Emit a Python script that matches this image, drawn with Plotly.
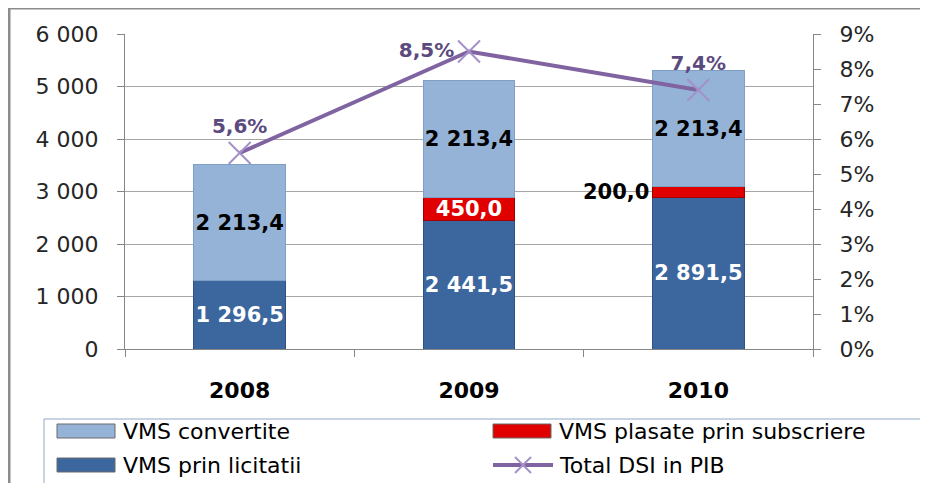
import plotly.graph_objects as go

# date (mil. lei)
years = ["2008", "2009", "2010"]
vms_licitatii = [1296.5, 2441.5, 2891.5]
vms_subscriere = [0.0, 450.0, 200.0]
vms_convertite = [2213.4, 2213.4, 2213.4]
dsi_pib = [0.056, 0.085, 0.074]

series_names = ["VMS convertite", "VMS plasate prin subscriere",
                "VMS prin licitatii", "Total DSI in PIB"]

C_LIGHT = "#95B3D7"
C_DARK = "#3C679E"
C_RED = "#E00000"
C_LINE = "#8064A2"

# pagina html are 8px margine implicita -> figura putin mai mica
OFF = 8
W, H = 928 - OFF, 483 - OFF
L, T = 125 - OFF, 34 - OFF
R = W - (813 - OFF)
B = H - (349 - OFF)
PW, PH = W - L - R, H - T - B


# coordonate in pixeli de pagina -> paper
def px_x(px):
    return (px - OFF - L) / PW


def px_y(py):
    return (H - B - (py - OFF)) / PH


FONT = "DejaVu Sans"
xpos = list(range(len(years)))
BAR_W = 0.4

fig = go.Figure()

# bare stivuite: licitatii jos, subscriere, convertite sus
fig.add_trace(go.Bar(
    x=xpos, y=vms_licitatii, name=series_names[2],
    marker=dict(color=C_DARK, line=dict(color="#2E5283", width=1)),
    width=BAR_W, texttemplate="%{y:,.1f}", textposition="inside",
    insidetextanchor="middle", constraintext="none", textangle=0,
    textfont=dict(family=FONT, size=21, color="white", weight="bold"),
    showlegend=False,
))
fig.add_trace(go.Bar(
    x=xpos, y=vms_subscriere, name=series_names[1],
    marker=dict(color=C_RED, line=dict(color="#A00000", width=1)),
    width=BAR_W,
    texttemplate=["" if v < 300 else "%{y:,.1f}" for v in vms_subscriere],
    textposition="inside", insidetextanchor="middle", constraintext="none",
    textangle=0,
    textfont=dict(family=FONT, size=21, color="white", weight="bold"),
    showlegend=False,
))
fig.add_trace(go.Bar(
    x=xpos, y=vms_convertite, name=series_names[0],
    marker=dict(color=C_LIGHT, line=dict(color="#7F9FC7", width=1)),
    width=BAR_W, texttemplate="%{y:,.1f}", textposition="inside",
    insidetextanchor="middle", constraintext="none", textangle=0,
    textfont=dict(family=FONT, size=21, color="black", weight="bold"),
    showlegend=False,
))
fig.add_trace(go.Scatter(
    x=xpos, y=dsi_pib, name=series_names[3], yaxis="y2",
    mode="lines+markers+text",
    line=dict(color=C_LINE, width=4),
    marker=dict(symbol="x-thin", size=22, line=dict(color="#A391C8", width=2)),
    texttemplate="%{y:.1%}",
    textposition=["top center", "middle left", "top center"],
    textfont=dict(family=FONT, size=20, color="#5B4A7E", weight="bold"),
    cliponaxis=False, showlegend=False,
))

annotations = []
# eticheta mica (200,0) pusa in stanga barei
for i, v in enumerate(vms_subscriere):
    if 0 < v < 300:
        annotations.append(dict(
            x=xpos[i] - BAR_W / 2, y=vms_licitatii[i] + v / 2,
            xref="x", yref="y",
            text=f"{v:.1f}".replace(".", ","), showarrow=False,
            xanchor="right", yanchor="middle", xshift=-1,
            font=dict(family=FONT, size=21, color="black", weight="bold"),
        ))

shapes = []
# chenarul graficului
shapes.append(dict(type="rect", xref="paper", yref="paper",
                   x0=px_x(9), x1=px_x(940), y0=px_y(520), y1=px_y(8),
                   line=dict(color="#8C8C8C", width=3), layer="below"))
# legenda
shapes.append(dict(type="rect", xref="paper", yref="paper",
                   x0=px_x(44), x1=px_x(921), y0=px_y(500), y1=px_y(419),
                   line=dict(color="#8EA9C8", width=1)))
legend_items = [
    (series_names[0], "bar", C_LIGHT, 57, 431),
    (series_names[1], "bar", C_RED, 493, 431),
    (series_names[2], "bar", C_DARK, 57, 465),
    (series_names[3], "line", C_LINE, 493, 465),
]
for name, kind, color, lx, ly in legend_items:
    if kind == "bar":
        shapes.append(dict(type="rect", xref="paper", yref="paper",
                           x0=px_x(lx), x1=px_x(lx + 58),
                           y0=px_y(ly + 7), y1=px_y(ly - 7),
                           fillcolor=color, line=dict(color="#6A6A6A", width=1)))
    else:
        shapes.append(dict(type="line", xref="paper", yref="paper",
                           x0=px_x(lx), x1=px_x(lx + 60),
                           y0=px_y(ly), y1=px_y(ly),
                           line=dict(color=color, width=4)))
        for dy in (-8, 8):
            shapes.append(dict(type="line", xref="paper", yref="paper",
                               x0=px_x(lx + 22), x1=px_x(lx + 38),
                               y0=px_y(ly - dy), y1=px_y(ly + dy),
                               line=dict(color="#A391C8", width=2)))
    annotations.append(dict(
        x=px_x(lx + 64), y=px_y(ly), xref="paper", yref="paper",
        text=name, showarrow=False, xanchor="left", yanchor="middle",
        font=dict(family=FONT, size=22, color="black"),
    ))

fig.update_layout(
    width=W, height=H,
    margin=dict(l=L, r=R, t=T, b=B, autoexpand=False),
    barmode="stack",
    separators=", ",
    paper_bgcolor="white", plot_bgcolor="white",
    font=dict(family=FONT, size=22, color="#262626"),
    xaxis=dict(
        range=[-0.5, len(years) - 0.5],
        tickvals=xpos, ticktext=years, ticks="",
        showline=True, linecolor="#868686", linewidth=1,
        showgrid=False, zeroline=False,
        tickfont=dict(family=FONT, size=22, color="black", weight="bold"),
        ticklabelstandoff=22,
        minor=dict(tickvals=[p - 0.5 for p in xpos] + [xpos[-1] + 0.5],
                   ticks="outside", ticklen=7, tickcolor="#868686",
                   showgrid=False),
    ),
    yaxis=dict(
        range=[0, 6000], dtick=1000, separatethousands=True,
        showline=True, linecolor="#868686", linewidth=1,
        ticks="outside", ticklen=7, tickcolor="#868686",
        showgrid=True, gridcolor="#A6A6A6", gridwidth=1, zeroline=False,
        ticklabelstandoff=14,
    ),
    yaxis2=dict(
        range=[0, 0.09], dtick=0.01, tickformat=".0%",
        overlaying="y", side="right", showgrid=False, zeroline=False,
        showline=True, linecolor="#868686", linewidth=1,
        ticks="outside", ticklen=7, tickcolor="#868686",
        ticklabelstandoff=14,
    ),
    shapes=shapes,
    annotations=annotations,
    showlegend=False,
)

fig.write_html("out.html")
